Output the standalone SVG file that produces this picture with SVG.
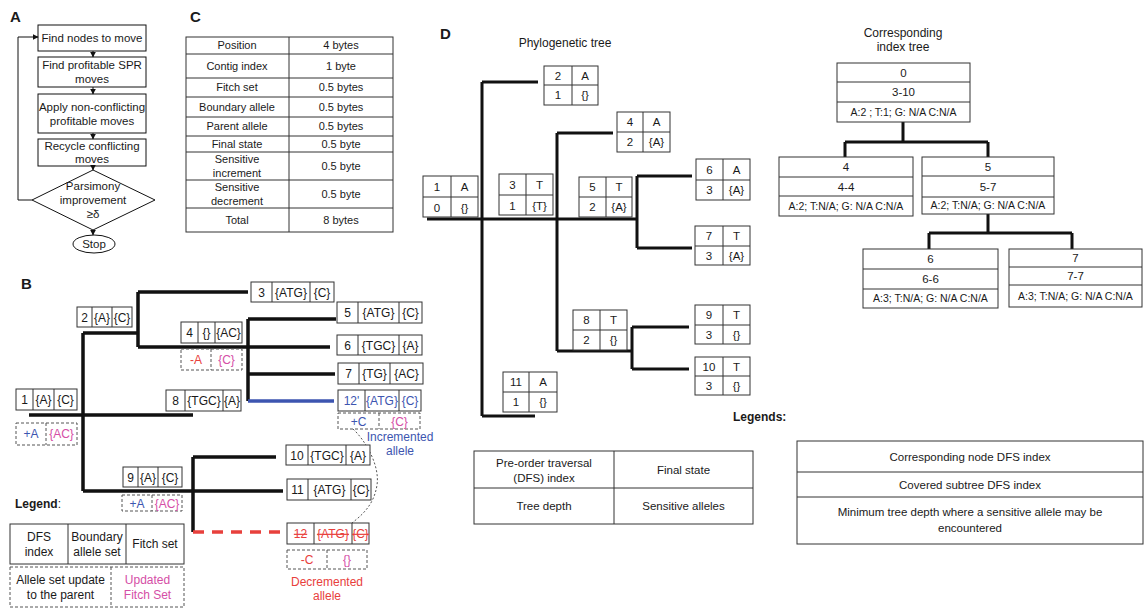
<svg xmlns="http://www.w3.org/2000/svg" width="1145" height="609" viewBox="0 0 1145 609">
<style>
text{font-family:"Liberation Sans",Arial,sans-serif;fill:#1a1a1a;text-anchor:middle}
.lab{font-weight:bold;font-size:15px;text-anchor:start}
.a{font-size:11.5px}
.c{font-size:11px}
.b{font-size:12px}
.d{font-size:11.5px}
.s{font-size:10.5px}
.box{fill:#fff;stroke:#333;stroke-width:1}
.dash{fill:#fff;stroke:#555;stroke-width:1;stroke-dasharray:3,2}
.tr{fill:none;stroke:#111;stroke-width:3.5}
.td{fill:none;stroke:#111;stroke-width:3}
.ln{stroke:#333;stroke-width:1;fill:none}
.blue{fill:#3d55b0}
.pink{fill:#d54ea6}
.red{fill:#e8403c}
.fl{fill:none;stroke:#111;stroke-width:1}
</style>
<defs>
<marker id="ah" viewBox="0 0 10 10" refX="9" refY="5" markerWidth="6" markerHeight="6" orient="auto">
<path d="M0,0 L10,5 L0,10 z" fill="#111"/>
</marker>
</defs>
<rect width="1145" height="609" fill="#fff"/>

<!-- Panel labels -->
<text class="lab" x="10" y="22">A</text>
<text class="lab" x="190" y="22">C</text>
<text class="lab" x="21" y="289">B</text>
<text class="lab" x="440" y="39">D</text>

<!-- Panel A: flowchart -->
<g id="connectors-A">
<line class="fl" x1="93" y1="51" x2="93" y2="57" marker-end="url(#ah)"/>
<line class="fl" x1="93" y1="87" x2="93" y2="94" marker-end="url(#ah)"/>
<line class="fl" x1="93" y1="133" x2="93" y2="139" marker-end="url(#ah)"/>
<line class="fl" x1="93" y1="166" x2="93" y2="170" marker-end="url(#ah)"/>
<line class="fl" x1="93" y1="230" x2="93" y2="235" marker-end="url(#ah)"/>
<polyline class="fl" points="32,200 18,200 18,37 38,37" marker-end="url(#ah)"/>
</g>
<g id="a-find-nodes"><rect class="fl" x="38" y="25" width="108" height="26" fill="#fff"/><text class="a" x="92" y="42">Find nodes to move</text></g>
<g id="a-find-spr"><rect class="fl" x="38" y="57" width="108" height="30" fill="#fff"/><text class="a" x="92" y="69">Find profitable SPR</text><text class="a" x="92" y="83">moves</text></g>
<g id="a-apply"><rect class="fl" x="38" y="94" width="108" height="39" fill="#fff"/><text class="a" x="92" y="111">Apply non-conflicting</text><text class="a" x="92" y="125">profitable moves</text></g>
<g id="a-recycle"><rect class="fl" x="38" y="139" width="108" height="27" fill="#fff"/><text class="a" x="92" y="150">Recycle conflicting</text><text class="a" x="92" y="163">moves</text></g>
<g id="a-decision"><polygon class="fl" points="93,170 155,200 93,230 32,200" fill="#fff"/><text class="a" x="93" y="190">Parsimony</text><text class="a" x="93" y="204">improvement</text><text class="a" x="93" y="218">≥δ</text></g>
<g id="a-stop"><ellipse class="fl" cx="94" cy="244" rx="21" ry="9" fill="#fff"/><text class="a" x="94" y="248">Stop</text></g>

<!-- Panel C: table -->
<g id="c-table">
<rect class="box" x="186" y="37" width="207" height="195"/>
<line class="ln" x1="289" y1="37" x2="289" y2="232"/>
<path class="ln" d="M186,54H393M186,78H393M186,97H393M186,117H393M186,136H393M186,152H393M186,180H393M186,208H393"/>
<text class="c" x="237" y="49">Position</text><text class="c" x="341" y="49">4 bytes</text>
<text class="c" x="237" y="70">Contig index</text><text class="c" x="341" y="70">1 byte</text>
<text class="c" x="237" y="91">Fitch set</text><text class="c" x="341" y="91">0.5 bytes</text>
<text class="c" x="237" y="111">Boundary allele</text><text class="c" x="341" y="111">0.5 bytes</text>
<text class="c" x="237" y="130">Parent allele</text><text class="c" x="341" y="130">0.5 bytes</text>
<text class="c" x="237" y="148">Final state</text><text class="c" x="341" y="148">0.5 byte</text>
<text class="c" x="237" y="163">Sensitive</text><text class="c" x="237" y="177">increment</text><text class="c" x="341" y="170">0.5 byte</text>
<text class="c" x="237" y="191">Sensitive</text><text class="c" x="237" y="205">decrement</text><text class="c" x="341" y="198">0.5 byte</text>
<text class="c" x="237" y="224">Total</text><text class="c" x="341" y="224">8 bytes</text>
</g>

<!-- Panel B: tree lines -->
<g id="connectors-B">
<path class="tr" d="M29,415H193M83,333V491M83,333H138M138,292V347M138,292H248M138,347H330M248,319V401M248,319H336M248,374H335M83,491H283M193,457V532M193,457H276"/>
<path d="M248,401H334" fill="none" stroke="#3d55b0" stroke-width="3.5"/>
<path d="M193,532H285" fill="none" stroke="#e8403c" stroke-width="3.5" stroke-dasharray="11,8"/>
<path d="M353,429C365,440 380,465 377,485C374,505 362,515 352,523" fill="none" stroke="#555" stroke-width="1" stroke-dasharray="2,2"/>
</g>
<g id="b-node1"><rect class="box" x="16" y="389" width="61" height="21"/><path class="ln" d="M33,389V410M54,389V410"/><text class="b" x="24.5" y="404">1</text><text class="b" x="43.5" y="404">{A}</text><text class="b" x="65.5" y="404">{C}</text></g>
<g id="b-node2"><rect class="box" x="77" y="307" width="55" height="20"/><path class="ln" d="M92,307V327M112,307V327"/><text class="b" x="84.5" y="321.5">2</text><text class="b" x="102" y="321.5">{A}</text><text class="b" x="122" y="321.5">{C}</text></g>
<g id="b-node3"><rect class="box" x="251" y="282" width="83" height="20"/><path class="ln" d="M272,282V302M310,282V302"/><text class="b" x="261.5" y="296.5">3</text><text class="b" x="291" y="296.5">{ATG}</text><text class="b" x="322" y="296.5">{C}</text></g>
<g id="b-node4"><rect class="box" x="181" y="322" width="61" height="21"/><path class="ln" d="M198,322V343M215,322V343"/><text class="b" x="189.5" y="337">4</text><text class="b" x="206.5" y="337">{}</text><text class="b" x="228.5" y="337">{AC}</text></g>
<g id="b-node5"><rect class="box" x="337" y="302" width="85" height="21"/><path class="ln" d="M358,302V323M399,302V323"/><text class="b" x="347.5" y="317">5</text><text class="b" x="378.5" y="317">{ATG}</text><text class="b" x="410.5" y="317">{C}</text></g>
<g id="b-node6"><rect class="box" x="337" y="335" width="85" height="20"/><path class="ln" d="M358,335V355M399,335V355"/><text class="b" x="347.5" y="349.5">6</text><text class="b" x="378.5" y="349.5">{TGC}</text><text class="b" x="410.5" y="349.5">{A}</text></g>
<g id="b-node7"><rect class="box" x="338" y="363" width="85" height="21"/><path class="ln" d="M359,363V384M390,363V384"/><text class="b" x="348.5" y="378">7</text><text class="b" x="374.5" y="378">{TG}</text><text class="b" x="406.5" y="378">{AC}</text></g>
<g id="b-node12p"><rect class="box" x="338" y="390" width="83" height="21"/><path class="ln" d="M365,390V411M399,390V411"/><text class="b blue" x="351.5" y="405">12'</text><text class="b blue" x="382" y="405">{ATG}</text><text class="b blue" x="410" y="405">{C}</text></g>
<g id="b-node8"><rect class="box" x="166" y="390" width="75" height="21"/><path class="ln" d="M185,390V411M223,390V411"/><text class="b" x="175.5" y="405">8</text><text class="b" x="204" y="405">{TGC}</text><text class="b" x="232" y="405">{A}</text></g>
<g id="b-node9"><rect class="box" x="123" y="467" width="59" height="20"/><path class="ln" d="M138,467V487M158,467V487"/><text class="b" x="130.5" y="481.5">9</text><text class="b" x="148" y="481.5">{A}</text><text class="b" x="170" y="481.5">{C}</text></g>
<g id="b-node10"><rect class="box" x="286" y="445" width="84" height="20"/><path class="ln" d="M308,445V465M346,445V465"/><text class="b" x="297" y="459.5">10</text><text class="b" x="327" y="459.5">{TGC}</text><text class="b" x="358" y="459.5">{A}</text></g>
<g id="b-node11"><rect class="box" x="287" y="479" width="84" height="21"/><path class="ln" d="M308,479V500M351,479V500"/><text class="b" x="297.5" y="494">11</text><text class="b" x="329.5" y="494">{ATG}</text><text class="b" x="361" y="494">{C}</text></g>
<g id="b-node12"><rect class="box" x="287" y="523" width="82" height="21"/><path class="ln" d="M314,523V544M352,523V544"/><text class="b red" x="300.5" y="538" text-decoration="line-through">12</text><text class="b red" x="333" y="538" text-decoration="line-through">{ATG}</text><text class="b red" x="360.5" y="538" text-decoration="line-through">{C}</text></g>
<g id="b-upd1"><rect class="dash" x="16" y="423" width="61" height="22"/><line class="dash" x1="46" y1="423" x2="46" y2="445"/><text class="b blue" x="31" y="438">+A</text><text class="b pink" x="61.5" y="438">{AC}</text></g>
<g id="b-upd4"><rect class="dash" x="181" y="349" width="61" height="21"/><line class="dash" x1="211" y1="349" x2="211" y2="370"/><text class="b red" x="196" y="364">-A</text><text class="b pink" x="226.5" y="364">{C}</text></g>
<g id="b-upd9"><rect class="dash" x="122" y="495" width="60" height="16"/><line class="dash" x1="152" y1="495" x2="152" y2="511"/><text class="b blue" x="137" y="507.5">+A</text><text class="b pink" x="167" y="507.5">{AC}</text></g>
<g id="b-upd12p"><rect class="dash" x="338" y="413" width="82" height="16"/><line class="dash" x1="379" y1="413" x2="379" y2="429"/><text class="b blue" x="358.5" y="425.5">+C</text><text class="b pink" x="399.5" y="425.5">{C}</text></g>
<g id="b-upd12"><rect class="dash" x="287" y="550" width="80" height="19"/><line class="dash" x1="327" y1="550" x2="327" y2="569"/><text class="b red" x="307" y="564">-C</text><text class="b pink" x="347" y="564">{}</text></g>
<g id="b-notes">
<text class="b blue" x="400" y="441">Incremented</text><text class="b blue" x="400" y="455">allele</text>
<text class="b red" x="327" y="586">Decremented</text><text class="b red" x="327" y="600">allele</text>
</g>
<g id="b-legend">
<text class="b" x="15" y="508" style="text-anchor:start"><tspan font-weight="bold">Legend</tspan>:</text>
<rect class="box" x="10" y="524" width="174" height="40"/>
<path class="ln" d="M68,524V564M126,524V564"/>
<text class="b" x="39" y="541">DFS</text><text class="b" x="39" y="556">index</text>
<text class="b" x="97" y="541">Boundary</text><text class="b" x="97" y="556">allele set</text>
<text class="b" x="155" y="548">Fitch set</text>
<rect class="dash" x="10" y="567" width="174" height="40"/>
<line class="dash" x1="111" y1="567" x2="111" y2="607"/>
<text class="b" x="60.5" y="584">Allele set update</text><text class="b" x="60.5" y="599">to the parent</text>
<text class="b pink" x="147.5" y="584">Updated</text><text class="b pink" x="147.5" y="599">Fitch Set</text>
</g>

<!-- Panel D: phylogenetic tree -->
<text class="b" x="565" y="47">Phylogenetic tree</text>
<g id="connectors-D">
<path class="td" d="M427,219H637M482,82V416M482,82H538M482,416H535M557,133V351M557,133H613M557,351H632M637,176V248M637,176H692M637,248H692M632,327V369M632,327H689M632,369H689"/>
</g>
<g id="d-node1"><rect class="box" x="423" y="176" width="55" height="41"/><path class="ln" d="M451,176V217M423,197H478"/><text class="d" x="437" y="191">1</text><text class="d" x="464.5" y="191">A</text><text class="d" x="437" y="211.5">0</text><text class="d" x="464.5" y="211.5">{}</text></g>
<g id="d-node2"><rect class="box" x="544" y="66" width="54" height="39"/><path class="ln" d="M572,66V105M544,85H598"/><text class="d" x="558" y="80">2</text><text class="d" x="585" y="80">A</text><text class="d" x="558" y="99">1</text><text class="d" x="585" y="99">{}</text></g>
<g id="d-node3"><rect class="box" x="499" y="174" width="54" height="41"/><path class="ln" d="M526,174V215M499,195H553"/><text class="d" x="512.5" y="189">3</text><text class="d" x="539.5" y="189">T</text><text class="d" x="512.5" y="209.5">1</text><text class="d" x="539.5" y="209.5">{T}</text></g>
<g id="d-node4"><rect class="box" x="617" y="112" width="53" height="40"/><path class="ln" d="M643,112V152M617,132H670"/><text class="d" x="630" y="126">4</text><text class="d" x="656.5" y="126">A</text><text class="d" x="630" y="146">2</text><text class="d" x="656.5" y="146">{A}</text></g>
<g id="d-node5"><rect class="box" x="579" y="177" width="53" height="40"/><path class="ln" d="M606,177V217M579,197H632"/><text class="d" x="592.5" y="191">5</text><text class="d" x="619" y="191">T</text><text class="d" x="592.5" y="211">2</text><text class="d" x="619" y="211">{A}</text></g>
<g id="d-node6"><rect class="box" x="696" y="159" width="54" height="41"/><path class="ln" d="M723,159V200M696,180H750"/><text class="d" x="709.5" y="174">6</text><text class="d" x="736.5" y="174">A</text><text class="d" x="709.5" y="194">3</text><text class="d" x="736.5" y="194">{A}</text></g>
<g id="d-node7"><rect class="box" x="695" y="226" width="55" height="39"/><path class="ln" d="M723,226V265M695,246H750"/><text class="d" x="709" y="240">7</text><text class="d" x="736.5" y="240">T</text><text class="d" x="709" y="259.5">3</text><text class="d" x="736.5" y="259.5">{A}</text></g>
<g id="d-node8"><rect class="box" x="573" y="310" width="54" height="40"/><path class="ln" d="M600,310V350M573,330H627"/><text class="d" x="586.5" y="324">8</text><text class="d" x="613.5" y="324">T</text><text class="d" x="586.5" y="344">2</text><text class="d" x="613.5" y="344">{}</text></g>
<g id="d-node9"><rect class="box" x="695" y="305" width="55" height="39"/><path class="ln" d="M723,305V344M695,325H750"/><text class="d" x="709" y="319">9</text><text class="d" x="736.5" y="319">T</text><text class="d" x="709" y="338.5">3</text><text class="d" x="736.5" y="338.5">{}</text></g>
<g id="d-node10"><rect class="box" x="695" y="357" width="55" height="38"/><path class="ln" d="M723,357V395M695,376H750"/><text class="d" x="709" y="370.5">10</text><text class="d" x="736.5" y="370.5">T</text><text class="d" x="709" y="389.5">3</text><text class="d" x="736.5" y="389.5">{}</text></g>
<g id="d-node11"><rect class="box" x="503" y="372" width="54" height="40"/><path class="ln" d="M529,372V412M503,392H557"/><text class="d" x="516" y="386">11</text><text class="d" x="543" y="386">A</text><text class="d" x="516" y="406">1</text><text class="d" x="543" y="406">{}</text></g>

<!-- Panel D: index tree -->
<text class="b" x="903" y="37">Corresponding</text>
<text class="b" x="903" y="51">index tree</text>
<g id="connectors-idx">
<path class="td" d="M903,122V142M845,142H988M845,142V157M988,142V157M988,214V233M929,233H1072M929,233V249M1072,233V249"/>
</g>
<g id="i-node0"><rect class="box" x="837" y="63" width="133" height="59"/><path class="ln" d="M837,82H970M837,102H970"/><text class="d" x="903.5" y="77">0</text><text class="d" x="903.5" y="96">3-10</text><text class="s" x="903.5" y="116">A:2 ; T:1; G: N/A C:N/A</text></g>
<g id="i-node4"><rect class="box" x="779" y="157" width="134" height="59"/><path class="ln" d="M779,177H913M779,196H913"/><text class="d" x="846" y="171">4</text><text class="d" x="846" y="191">4-4</text><text class="s" x="846" y="210">A:2; T:N/A; G: N/A C:N/A</text></g>
<g id="i-node5"><rect class="box" x="922" y="157" width="132" height="57"/><path class="ln" d="M922,176H1054M922,197H1054"/><text class="d" x="988" y="171">5</text><text class="d" x="988" y="191">5-7</text><text class="s" x="988" y="209">A:2; T:N/A; G: N/A C:N/A</text></g>
<g id="i-node6"><rect class="box" x="863" y="249" width="135" height="59"/><path class="ln" d="M863,269H998M863,289H998"/><text class="d" x="930.5" y="263">6</text><text class="d" x="930.5" y="283">6-6</text><text class="s" x="930.5" y="302">A:3; T:N/A; G: N/A C:N/A</text></g>
<g id="i-node7"><rect class="box" x="1009" y="249" width="133" height="58"/><path class="ln" d="M1009,267H1142M1009,285H1142"/><text class="d" x="1075.5" y="262">7</text><text class="d" x="1075.5" y="280">7-7</text><text class="s" x="1075.5" y="300">A:3; T:N/A; G: N/A C:N/A</text></g>

<!-- Panel D legends -->
<g id="d-legends">
<text class="b" x="733" y="421" style="text-anchor:start;font-weight:bold">Legends:</text>
<rect class="box" x="474" y="451" width="279" height="73"/>
<path class="ln" d="M614,451V524M474,488H753"/>
<text class="d" x="544" y="467">Pre-order traversal</text><text class="d" x="544" y="482">(DFS) index</text>
<text class="d" x="683.5" y="474">Final state</text>
<text class="d" x="544" y="510">Tree depth</text>
<text class="d" x="683.5" y="510">Sensitive alleles</text>
<rect class="box" x="797" y="441" width="346" height="103"/>
<path class="ln" d="M797,472H1143M797,497H1143"/>
<text class="d" x="970" y="461">Corresponding node DFS index</text>
<text class="d" x="970" y="489">Covered subtree DFS index</text>
<text class="d" x="970" y="516">Minimum tree depth where a sensitive allele may be</text>
<text class="d" x="970" y="532">encountered</text>
</g>
</svg>
